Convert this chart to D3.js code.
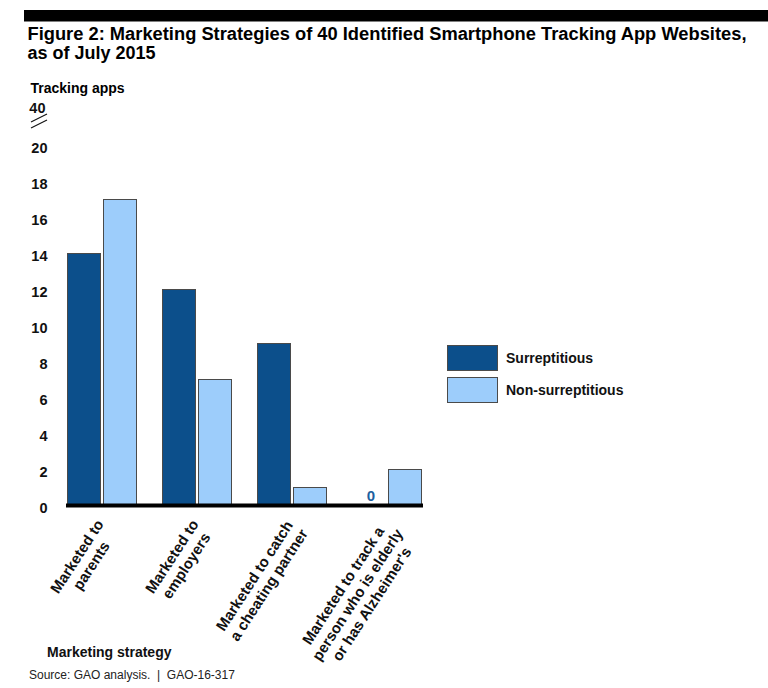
<!DOCTYPE html>
<html>
<head>
<meta charset="utf-8">
<script src="https://cdn.jsdelivr.net/npm/d3@7"></script>
<style>
  html, body { margin: 0; padding: 0; background: #fff; }
  svg { display: block; font-family: "Liberation Sans", Arial, sans-serif; }
</style>
</head>
<body>
<svg id="chart" width="768" height="688"></svg>
<script>
// ---- data ----
const categories = [
  ["Marketed to", "parents"],
  ["Marketed to", "employers"],
  ["Marketed to catch", "a cheating partner"],
  ["Marketed to track a", "person who is elderly", "or has Alzheimer's"]
];
const categoryKeys = ["parents", "employers", "cheating", "elderly"];
const seriesNames = ["Surreptitious", "Non-surreptitious"];
const surreptitious = [14, 12, 9, 0];
const nonSurreptitious = [17, 7, 1, 2];
const yTickValues = [0, 2, 4, 6, 8, 10, 12, 14, 16, 18, 20];
const brokenTopLabel = "40";
const titleLines = ["Figure 2: Marketing Strategies of 40 Identified Smartphone Tracking App Websites,", "as of July 2015"];
const yAxisTitle = "Tracking apps";
const xAxisTitle = "Marketing strategy";
const sourceText = "Source: GAO analysis.\u00a0\u00a0|\u00a0\u00a0GAO-16-317";

const colors = { "Surreptitious": "#0c4f8b", "Non-surreptitious": "#9dcdfb" };

const svg = d3.select("#chart");

// top black band
svg.append("rect").attr("x", 24).attr("y", 10).attr("width", 744).attr("height", 11.5).attr("fill", "#000");

// title
const titleWidths = [719, 129];
titleLines.forEach((t, i) => {
  const el = svg.append("text")
    .attr("x", 27.5).attr("y", 39.5 + i * 19)
    .attr("font-size", 18).attr("font-weight", "bold").attr("fill", "#000")
    .text(t);
  const w = el.node().getComputedTextLength();
  if (Math.abs(w - titleWidths[i]) > 3) {
    el.attr("textLength", titleWidths[i]).attr("lengthAdjust", "spacingAndGlyphs");
  }
});

// scales
const y = d3.scaleLinear().domain([0, 20]).range([505, 145]);
const x0 = d3.scaleBand().domain(categoryKeys).range([67, 422]).paddingInner(25 / 95).paddingOuter(0);
const x1 = d3.scaleBand().domain(seriesNames).range([0, x0.bandwidth()]).paddingInner(2 / 36).paddingOuter(0);

// y axis title
svg.append("text").attr("x", 30.5).attr("y", 92.5)
  .attr("font-size", 14).attr("font-weight", "bold").text(yAxisTitle);

// y axis
const yAxis = d3.axisLeft(y).tickValues(yTickValues).tickSize(0).tickPadding(0).tickFormat(d3.format("d"));
const gy = svg.append("g").attr("transform", "translate(47.5,3)").call(yAxis);
gy.select(".domain").remove();
gy.selectAll("text").attr("font-size", 14.5).attr("font-weight", "bold")
  .attr("font-family", "'Liberation Sans', Arial, sans-serif").attr("fill", "#111");

// broken top label "40"
svg.append("text").attr("x", 45.5).attr("y", 113).attr("text-anchor", "end")
  .attr("font-size", 14.5).attr("font-weight", "bold").attr("fill", "#111").text(brokenTopLabel);
// break marks
[0, 6].forEach(off => {
  svg.append("line")
    .attr("x1", 31).attr("y1", 122 + off).attr("x2", 47).attr("y2", 114 + off)
    .attr("stroke", "#111").attr("stroke-width", 1.1);
});

// bars
const data = categoryKeys.map((k, i) => ({ key: k, values: [
  { series: seriesNames[0], value: surreptitious[i] },
  { series: seriesNames[1], value: nonSurreptitious[i] }
]}));

const groups = svg.append("g").selectAll("g").data(data).join("g")
  .attr("transform", d => `translate(${x0(d.key)},0)`);

groups.selectAll("rect").data(d => d.values.filter(v => v.value > 0)).join("rect")
  .attr("x", v => x1(v.series) + 0.5)
  .attr("y", v => y(v.value) + 0.5)
  .attr("width", x1.bandwidth() - 1)
  .attr("height", v => y(0) - y(v.value))
  .attr("fill", v => colors[v.series])
  .attr("stroke", "#4a4a4a").attr("stroke-width", 1);

// zero value labels
groups.selectAll("text.zero").data(d => d.values.filter(v => v.value === 0)).join("text")
  .attr("class", "zero")
  .attr("x", v => x1(v.series) + x1.bandwidth() / 2 + 2)
  .attr("y", y(0) - 4)
  .attr("text-anchor", "middle")
  .attr("font-size", 15).attr("font-weight", "bold").attr("fill", "#1d5fa0")
  .text(v => v.value);

// baseline
svg.append("line").attr("x1", 66).attr("x2", 423).attr("y1", y(0) + 0.5).attr("y2", y(0) + 0.5)
  .attr("stroke", "#000").attr("stroke-width", 4);

// x category labels (rotated, centered lines)
const angle = -57;
categoryKeys.forEach((k, i) => {
  const cx = x0(k) + x0.bandwidth() / 2 - 7;
  const g = svg.append("g").attr("transform", `translate(${cx},518) rotate(${angle})`);
  const lines = categories[i];
  const texts = lines.map((l, j) => g.append("text")
    .attr("y", 11 + j * 17)
    .attr("text-anchor", "middle")
    .attr("font-size", 15).attr("font-weight", "bold").attr("fill", "#111")
    .text(l));
  const W = d3.max(texts, t => t.node().getComputedTextLength());
  texts.forEach(t => t.attr("x", -W / 2));
});

// x axis title
svg.append("text").attr("x", 47).attr("y", 657)
  .attr("font-size", 14).attr("font-weight", "bold").attr("fill", "#111").text(xAxisTitle);

// source
svg.append("text").attr("x", 29).attr("y", 679)
  .attr("font-size", 12).attr("fill", "#222").text(sourceText);

// legend
const legend = svg.append("g").attr("transform", "translate(447,345)");
seriesNames.forEach((s, i) => {
  legend.append("rect").attr("x", 0.5).attr("y", i * 32 + 0.5).attr("width", 50).attr("height", 25)
    .attr("fill", colors[s]).attr("stroke", "#4a4a4a").attr("stroke-width", 1);
  legend.append("text").attr("x", 59).attr("y", i * 32 + 18)
    .attr("font-size", 14).attr("font-weight", "bold").attr("fill", "#111").text(s);
});
</script>
</body>
</html>
